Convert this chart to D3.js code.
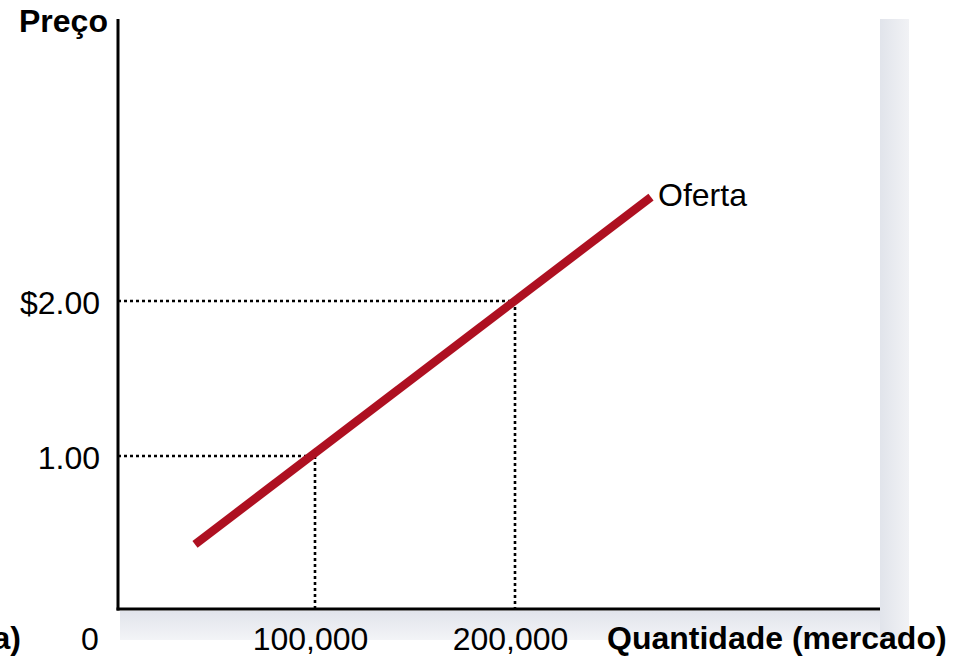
<!DOCTYPE html>
<html>
<head>
<meta charset="utf-8">
<script src="https://cdn.jsdelivr.net/npm/d3@7"></script>
<style>
  html, body { margin: 0; padding: 0; background: #fff; overflow: hidden; }
  svg { display: block; }
  text { font-family: "Liberation Sans", Arial, Helvetica, sans-serif; fill: #000; }
</style>
</head>
<body>
<script>
// ---- data ----
const supplyQ = [40000, 268000];
const supplyP = [0.43, 2.67];
const markQ = [100000, 200000];
const markP = [1.00, 2.00];
const xTickLabels = ["100,000", "200,000"];
const yTickLabels = ["1.00", "$2.00"];
const supplyLabel = "Oferta";
const xTitle = "Quantidade (mercado)";
const yTitle = "Preço";
const panelLabel = "(a)";
const originLabel = "0";

const W = 978, H = 659;
const svg = d3.select("body").append("svg").attr("width", W).attr("height", H);

const x = d3.scaleLinear().domain([0, 382500]).range([115, 880]);
const y = d3.scaleLinear().domain([0, 3.8]).range([611, 22]);

const axisX = 118, axisY = 609, plotTop = 19, plotRight = 880;

// ---- shadow gradients ----
const defs = svg.append("defs");
const gv = defs.append("linearGradient").attr("id", "gv").attr("x1", 0).attr("y1", 0).attr("x2", 1).attr("y2", 0);
gv.append("stop").attr("offset", "0%").attr("stop-color", "#e1e4eb");
gv.append("stop").attr("offset", "100%").attr("stop-color", "#f1f2f5");
const gh = defs.append("linearGradient").attr("id", "gh").attr("x1", 0).attr("y1", 0).attr("x2", 0).attr("y2", 1);
gh.append("stop").attr("offset", "0%").attr("stop-color", "#e1e4eb");
gh.append("stop").attr("offset", "100%").attr("stop-color", "#f3f4f7");

svg.append("rect").attr("x", plotRight).attr("y", plotTop)
  .attr("width", 29).attr("height", 640 - plotTop).attr("fill", "url(#gv)");
svg.append("rect").attr("x", 120).attr("y", axisY + 2)
  .attr("width", plotRight - 120).attr("height", 640 - axisY - 2).attr("fill", "url(#gh)");

// ---- dotted guides ----
const guides = svg.append("g").attr("stroke", "#000").attr("stroke-width", 2.6)
  .attr("stroke-dasharray", "3,3").attr("fill", "none");
markQ.forEach((q, i) => {
  guides.append("line").attr("x1", axisX).attr("x2", x(q)).attr("y1", y(markP[i])).attr("y2", y(markP[i]));
  guides.append("line").attr("x1", x(q)).attr("x2", x(q)).attr("y1", y(markP[i])).attr("y2", axisY);
});

// ---- axes ----
const xAxis = d3.axisBottom(x).tickValues(markQ).tickSize(0).tickPadding(18)
  .tickFormat((d, i) => xTickLabels[i]);
const gx = svg.append("g").attr("transform", `translate(0,${axisY})`).call(xAxis);
gx.select(".domain").remove();
gx.selectAll("text").attr("font-size", 32).attr("dx", -5)
  .style("font-family", "'Liberation Sans', Arial, sans-serif").attr("fill", "#000");

const yAxis = d3.axisLeft(y).tickValues(markP).tickSize(0).tickPadding(18)
  .tickFormat((d, i) => yTickLabels[i]);
const gy = svg.append("g").attr("transform", `translate(${axisX},0)`).call(yAxis);
gy.select(".domain").remove();
gy.selectAll("text").attr("font-size", 32).attr("dy", "0.4em")
  .style("font-family", "'Liberation Sans', Arial, sans-serif").attr("fill", "#000");

// axis lines
svg.append("line").attr("x1", axisX).attr("x2", axisX).attr("y1", plotTop).attr("y2", axisY + 1.5)
  .attr("stroke", "#000").attr("stroke-width", 3);
svg.append("line").attr("x1", axisX - 1.5).attr("x2", plotRight).attr("y1", axisY).attr("y2", axisY)
  .attr("stroke", "#000").attr("stroke-width", 3);

// ---- supply line ----
const pts = supplyQ.map((q, i) => [x(q), y(supplyP[i])]);
svg.append("path").attr("d", d3.line()(pts))
  .attr("stroke", "#ae1021").attr("stroke-width", 8.5).attr("fill", "none").attr("stroke-linecap", "butt");

svg.append("text").attr("x", x(supplyQ[1]) + 7).attr("y", y(supplyP[1]) + 9)
  .attr("font-size", 32).text(supplyLabel);

// ---- titles ----
svg.append("text").attr("x", 19).attr("y", 32).attr("font-size", 32).attr("font-weight", "bold").text(yTitle);
svg.append("text").attr("x", 607).attr("y", 649).attr("font-size", 32).attr("font-weight", "bold").text(xTitle);
svg.append("text").attr("x", 21).attr("y", 649).attr("font-size", 32).attr("font-weight", "bold")
  .attr("text-anchor", "end").text(panelLabel);
svg.append("text").attr("x", x(0) - 25).attr("y", 650).attr("font-size", 32)
  .attr("text-anchor", "middle").text(originLabel);
</script>
</body>
</html>
